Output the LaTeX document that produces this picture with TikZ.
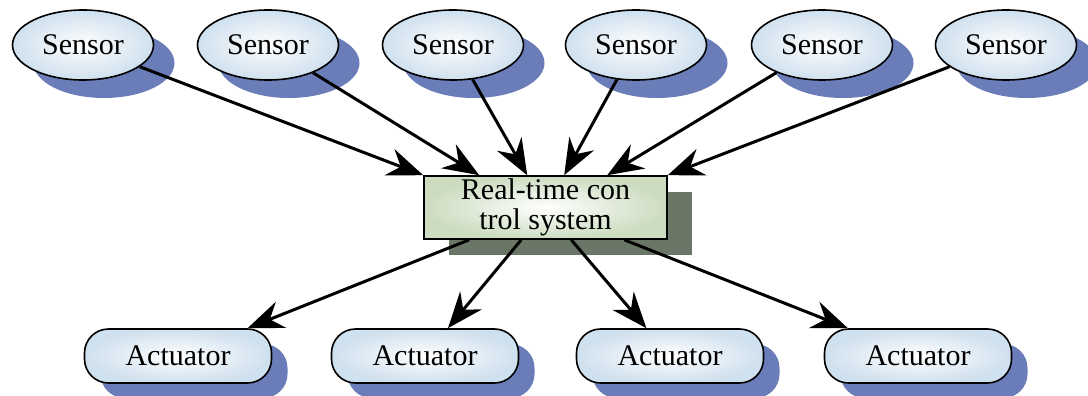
\documentclass[tikz,border=0pt]{standalone}
\usepackage{fontspec}
\setmainfont{Liberation Serif}
\usetikzlibrary{shapes.geometric,shadows,arrows.meta}
\definecolor{sensorfill}{HTML}{CFE0EE}
\definecolor{sensorshadow}{HTML}{6A7DB9}
\definecolor{ctrlfill}{HTML}{CCDCC0}
\definecolor{ctrlshadow}{HTML}{6B7766}
\tikzset{
  lbl/.style={font=\fontsize{30}{30}\selectfont},
  sensor/.style={lbl,ellipse,draw,line width=1.6pt,minimum width=141pt,minimum height=70pt,inner sep=0pt,
    inner color=white,outer color=sensorfill,
    drop shadow={shadow xshift=21pt,shadow yshift=-18pt,fill=sensorshadow,opacity=1}},
  actuator/.style={lbl,rectangle,rounded corners=24pt,draw,line width=1.6pt,minimum width=187pt,minimum height=54pt,inner sep=0pt,
    inner color=white,outer color=sensorfill,
    drop shadow={shadow xshift=16pt,shadow yshift=-15pt,fill=sensorshadow,opacity=1}},
  ctrlbox/.style={lbl,rectangle,draw,line width=1.6pt,minimum width=243pt,minimum height=63pt,inner sep=0pt,align=center,
    inner color=white,outer color=ctrlfill,
    drop shadow={shadow xshift=25pt,shadow yshift=-16pt,fill=ctrlshadow,opacity=1}},
  arr/.style={line width=3pt,-{Stealth[length=36pt,width=28pt,inset=12pt]}}
}
\begin{document}
\begin{tikzpicture}[x=1pt,y=1pt]
\useasboundingbox (0,0) rectangle (1088,-396);
% sensors
\node[sensor] (s1) at (83,-45) {Sensor};
\node[sensor] (s2) at (268,-45) {Sensor};
\node[sensor] (s3) at (453,-45) {Sensor};
\node[sensor] (s4) at (636,-45) {Sensor};
\node[sensor] (s5) at (822,-45) {Sensor};
\node[sensor] (s6) at (1006,-45) {Sensor};
% control system
\node[ctrlbox] (ctrl) at (545.5,-207.5) {Real-time con\\trol system};
% actuators
\node[actuator] (a1) at (178,-356) {Actuator};
\node[actuator] (a2) at (425,-356) {Actuator};
\node[actuator] (a3) at (670,-356) {Actuator};
\node[actuator] (a4) at (918,-356) {Actuator};
% inputs
\draw[arr] (s1) -- (ctrl.north west);
\draw[arr] (s2) -- ([xshift=56pt]ctrl.north west);
\draw[arr] (s3) -- ([xshift=104pt]ctrl.north west);
\draw[arr] (s4) -- ([xshift=141pt]ctrl.north west);
\draw[arr] (s5) -- ([xshift=184pt]ctrl.north west);
\draw[arr] (s6) -- (ctrl.north east);
% outputs
\draw[arr] ([xshift=46pt]ctrl.south west) -- (a1);
\draw[arr] ([xshift=98pt]ctrl.south west) -- (a2);
\draw[arr] ([xshift=148pt]ctrl.south west) -- (a3);
\draw[arr] ([xshift=201pt]ctrl.south west) -- (a4);
\end{tikzpicture}
\end{document}
